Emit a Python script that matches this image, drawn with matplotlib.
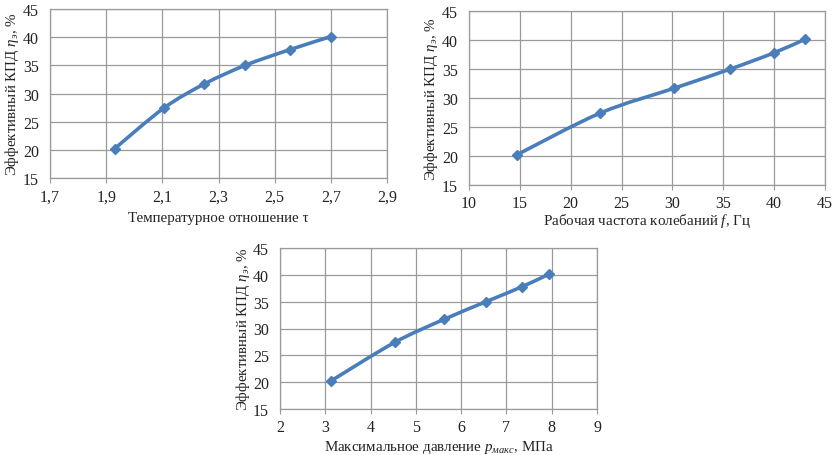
import matplotlib
matplotlib.use("Agg")
import matplotlib.pyplot as plt
import numpy as np
from matplotlib.path import Path
from matplotlib.patches import PathPatch

plt.rcParams["font.family"] = ["Liberation Serif", "DejaVu Serif"]
plt.rcParams["mathtext.fontset"] = "custom"
plt.rcParams["mathtext.rm"] = "Liberation Serif"
plt.rcParams["mathtext.it"] = "Liberation Serif:italic"

# efficiency values (same for all three panels)
eta = [20.2, 27.4, 31.7, 35.0, 37.8, 40.1]
tau = [1.93, 2.105, 2.25, 2.395, 2.555, 2.70]
freq = [14.7, 22.9, 30.2, 35.7, 40.0, 43.0]
p_max = [3.12, 4.53, 5.62, 6.55, 7.35, 7.93]

LINE_COLOR = "#4A7EBB"
GRID_COLOR = "#9A9A9A"
YLABEL = "Эффективный КПД $\\eta_э$, %"


def smooth_path(x, y, tension=1 / 6):
    # Excel-style smoothed line: cubic Bezier through the points
    pts = np.column_stack([x, y])
    verts = [pts[0]]
    codes = [Path.MOVETO]
    n = len(pts)
    for i in range(n - 1):
        p0 = pts[i - 1] if i > 0 else pts[i]
        p1, p2 = pts[i], pts[i + 1]
        p3 = pts[i + 2] if i + 2 < n else pts[i + 1]
        c1 = p1 + (p2 - p0) * tension
        c2 = p2 - (p3 - p1) * tension
        verts += [c1, c2, p2]
        codes += [Path.CURVE4] * 3
    return Path(verts, codes)


def draw_panel(ax, x, y, xlim, xticks, xlabel, xpad):
    ax.add_patch(PathPatch(smooth_path(x, y), fill=False, edgecolor=LINE_COLOR,
                           lw=2.6, capstyle="round", zorder=3))
    ax.plot(x, y, ls="none", marker="D", ms=5.5, color=LINE_COLOR, zorder=4)
    ax.set_xlim(*xlim)
    ax.set_ylim(15, 45)
    ax.set_xticks(xticks)
    ax.set_yticks(range(15, 50, 5))
    ax.set_xticklabels([f"{t:g}".replace(".", ",") for t in xticks])
    ax.grid(True, color=GRID_COLOR, lw=0.9)
    ax.set_axisbelow(True)
    for s in ax.spines.values():
        s.set_color(GRID_COLOR)
        s.set_linewidth(0.9)
    ax.tick_params(axis="both", labelsize=11.5, labelcolor="#222222",
                   color=GRID_COLOR, length=3.5, direction="out", pad=4)
    ax.tick_params(axis="y", length=0, pad=8)
    ax.set_xlabel(xlabel, fontsize=10.8, labelpad=xpad, color="#222222")
    ax.set_ylabel(YLABEL, fontsize=10.8, labelpad=1, color="#222222")


fig = plt.figure(figsize=(8.36, 4.56), dpi=100)
W, H = 836, 456

def add_axes(l, t, r, b):
    return fig.add_axes([l / W, 1 - b / H, (r - l) / W, (b - t) / H])

ax1 = add_axes(50, 10, 387, 179)
draw_panel(ax1, tau, eta, (1.7, 2.9), [1.7, 1.9, 2.1, 2.3, 2.5, 2.7, 2.9],
           "Температурное отношение τ", 5)

ax2 = add_axes(469, 12, 825, 186)
draw_panel(ax2, freq, eta, (10, 45), [10, 15, 20, 25, 30, 35, 40, 45],
           "Рабочая частота колебаний $f$, Гц", 0)

ax3 = add_axes(280, 249, 597, 410)
draw_panel(ax3, p_max, eta, (2, 9), [2, 3, 4, 5, 6, 7, 8, 9],
           "Максимальное давление $p_{макс}$, МПа", 2)

fig.savefig("out.png", dpi=100)
